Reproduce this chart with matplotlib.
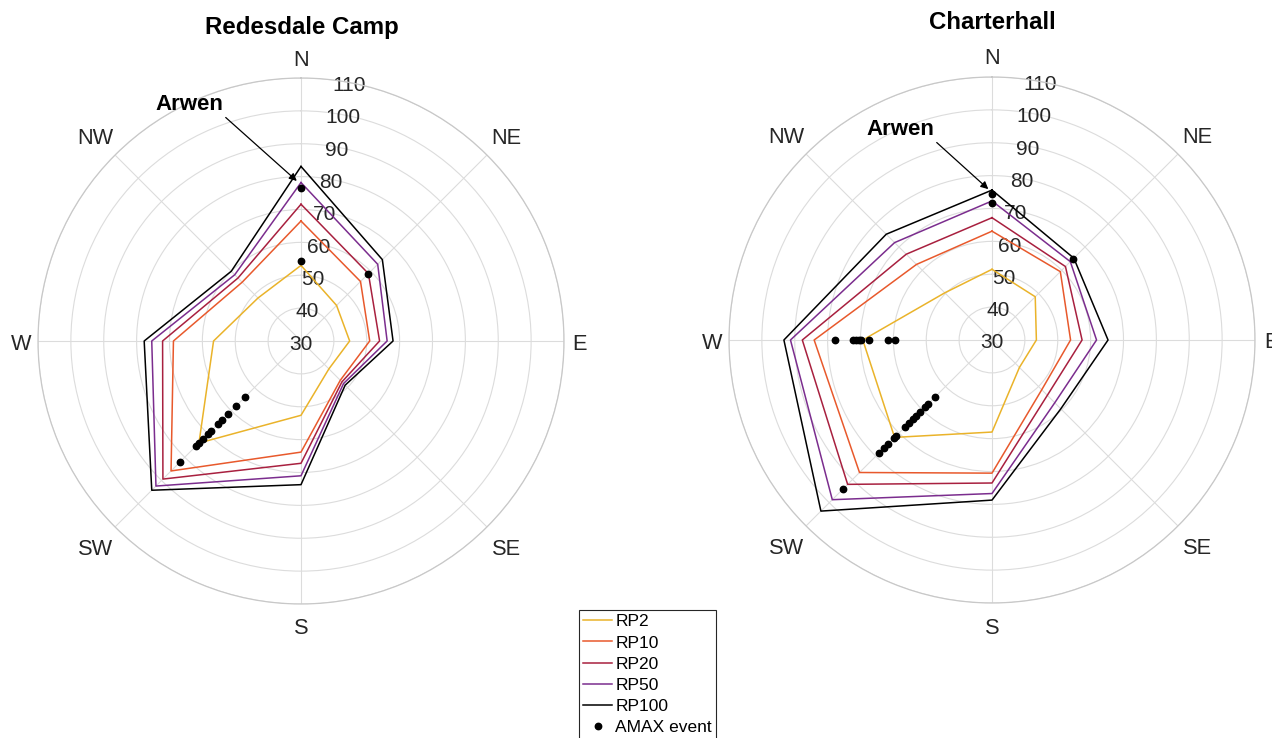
import numpy as np
import matplotlib
matplotlib.use('Agg')
import matplotlib.pyplot as plt
import matplotlib.transforms as mtransforms

plt.rcParams['font.family'] = ['Liberation Sans', 'DejaVu Sans']

# ---------------- data ----------------
directions = ['N', 'NE', 'E', 'SE', 'S', 'SW', 'W', 'NW']
dir_angles = [0, 45, 90, 135, 180, 225, 270, 315]
r_ticks = [30, 40, 50, 60, 70, 80, 90, 100, 110]
series_names = ['RP2', 'RP10', 'RP20', 'RP50', 'RP100']
series_colors = ['#EAB32A', '#E8592C', '#A8203F', '#7B2D8E', '#000000']

# Redesdale Camp (values per direction N..NW)
red_rp2 = [53.0, 45.3, 44.8, 42.0, 52.6, 73.9, 56.6, 48.5]
red_rp10 = [66.5, 55.6, 50.9, 46.9, 63.8, 85.9, 68.8, 55.3]
red_rp20 = [71.6, 59.0, 53.9, 47.6, 67.2, 89.4, 72.1, 57.1]
red_rp50 = [78.2, 63.0, 56.2, 48.3, 71.0, 92.4, 75.4, 58.5]
red_rp100 = [83.1, 65.0, 58.0, 49.0, 73.7, 94.2, 77.7, 60.0]
red_amax_dir = ['N', 'N', 'NE'] + ['SW'] * 11
red_amax_val = [76.4, 54.4, 59.0,
                54.2, 58.1, 61.4, 63.9, 65.7, 68.6, 70.1, 72.2, 74.0, 75.1, 81.9]

# Charterhall
cha_rp2 = [51.5, 48.6, 43.5, 41.8, 58.0, 71.9, 69.3, 50.3]
cha_rp10 = [63.1, 59.4, 53.9, 51.4, 70.5, 87.0, 84.1, 62.5]
cha_rp20 = [67.2, 61.6, 57.4, 53.8, 73.5, 92.1, 87.7, 66.9]
cha_rp50 = [72.3, 63.7, 61.8, 57.0, 76.7, 98.7, 91.3, 71.9]
cha_rp100 = [75.6, 65.2, 65.3, 59.6, 78.7, 103.6, 93.3, 75.5]
cha_amax_dir = ['N', 'N', 'NE'] + ['W'] * 8 + ['SW'] * 14
cha_amax_val = [74.3, 71.8, 64.9,
                77.7, 72.2, 71.4, 70.6, 69.9, 67.5, 61.7, 59.4,
                54.7, 57.5, 59.0, 61.1, 62.6, 64.0, 65.7, 67.6, 71.2, 72.0,
                74.8, 76.3, 78.4, 94.3]

sites = [
    dict(title='Redesdale Camp', series=[red_rp2, red_rp10, red_rp20, red_rp50, red_rp100],
         amax_dir=red_amax_dir, amax_val=red_amax_val),
    dict(title='Charterhall', series=[cha_rp2, cha_rp10, cha_rp20, cha_rp50, cha_rp100],
         amax_dir=cha_amax_dir, amax_val=cha_amax_val),
]

# ---------------- layout ----------------
W, H = 1272, 738
fig = plt.figure(figsize=(W / 100, H / 100), dpi=100)
R = 263
PXU = R / (r_ticks[-1] - r_ticks[0])       # pixels per data unit
centers = [(301, 341), (992, 340)]
title_pos = [(302, 34), (992, 29)]
arwen_text = [(189, 110), (900, 135)]
arwen_tip = [(-1.5, 78.7), (-1.4, 75.9)]
label_dist = [284, 291, 279, 291, 285, 291, 280, 291]   # px from centre

TXT = '#262626'
GRID = '#dcdcdc'

ang_map = dict(zip(directions, dir_angles))
handles = []
for i, site in enumerate(sites):
    cx, cy = centers[i]
    x0 = (cx - R) / W
    y0 = (H - cy - R) / H
    ax = fig.add_axes([x0, y0, 2 * R / W, 2 * R / H], projection='polar')
    ax.set_theta_zero_location('N')
    ax.set_theta_direction(-1)
    ax.set_rlim(r_ticks[0], r_ticks[-1])
    ax.set_yticks(r_ticks)
    ax.set_yticklabels([])
    ax.set_thetagrids(dir_angles, [''] * len(dir_angles))
    ax.grid(True, color=GRID, lw=0.8)
    ax.spines['polar'].set_color('#c8c8c8')
    ax.spines['polar'].set_linewidth(0.9)

    shift = ax.transData + mtransforms.ScaledTranslation(0, -3 / 100, fig.dpi_scale_trans)

    for d, a, dist in zip(directions, dir_angles, label_dist):
        ax.text(np.deg2rad(a), r_ticks[0] + dist / PXU, d, ha='center',
                va='center', fontsize=15.7, color=TXT, clip_on=False,
                transform=shift)

    th = np.deg2rad(dir_angles + [dir_angles[0]])
    for name, col, vals in zip(series_names, series_colors, site['series']):
        ln, = ax.plot(th, list(vals) + [vals[0]], color=col, lw=1.1, zorder=3,
                      label=name)
        if i == 0:
            handles.append(ln)
    am_th = np.deg2rad([ang_map[d] for d in site['amax_dir']])
    pts, = ax.plot(am_th, site['amax_val'], 'o', color='k', ms=4.6, zorder=4,
                   linestyle='none', label='AMAX event')
    if i == 0:
        handles.append(pts)

    for rv in r_ticks:
        ax.text(np.deg2rad(10.5), rv, str(rv), ha='center', va='center',
                fontsize=15, color=TXT, zorder=2, transform=shift)

    tx, ty = arwen_text[i]
    ax.annotate('Arwen', xy=(np.deg2rad(arwen_tip[i][0]), arwen_tip[i][1]),
                xytext=((tx - (cx - R)) / (2 * R), 1 - (ty - (cy - R)) / (2 * R)),
                textcoords='axes fraction', ha='center', va='baseline',
                fontsize=16, fontweight='bold', color='k', zorder=5,
                arrowprops=dict(arrowstyle='-|>', color='k', lw=0.9,
                                mutation_scale=11, shrinkA=0, shrinkB=0,
                                relpos=(1.0, 0.0)),
                annotation_clip=False)

    px, py = title_pos[i]
    fig.text(px / W, 1 - py / H, site['title'], ha='center', va='baseline',
             fontsize=17.3, fontweight='bold', color='k')

leg = fig.legend(handles, series_names + ['AMAX event'], loc='upper left',
                 bbox_to_anchor=(579 / W, 1 - 610 / H), borderaxespad=0,
                 fontsize=12.5, frameon=True, fancybox=False, framealpha=1,
                 edgecolor='#262626', borderpad=0.25, handlelength=1.67,
                 handletextpad=0.17, labelspacing=0.34, numpoints=1)
leg.get_frame().set_linewidth(0.8)

fig.savefig('out.png', dpi=100)
